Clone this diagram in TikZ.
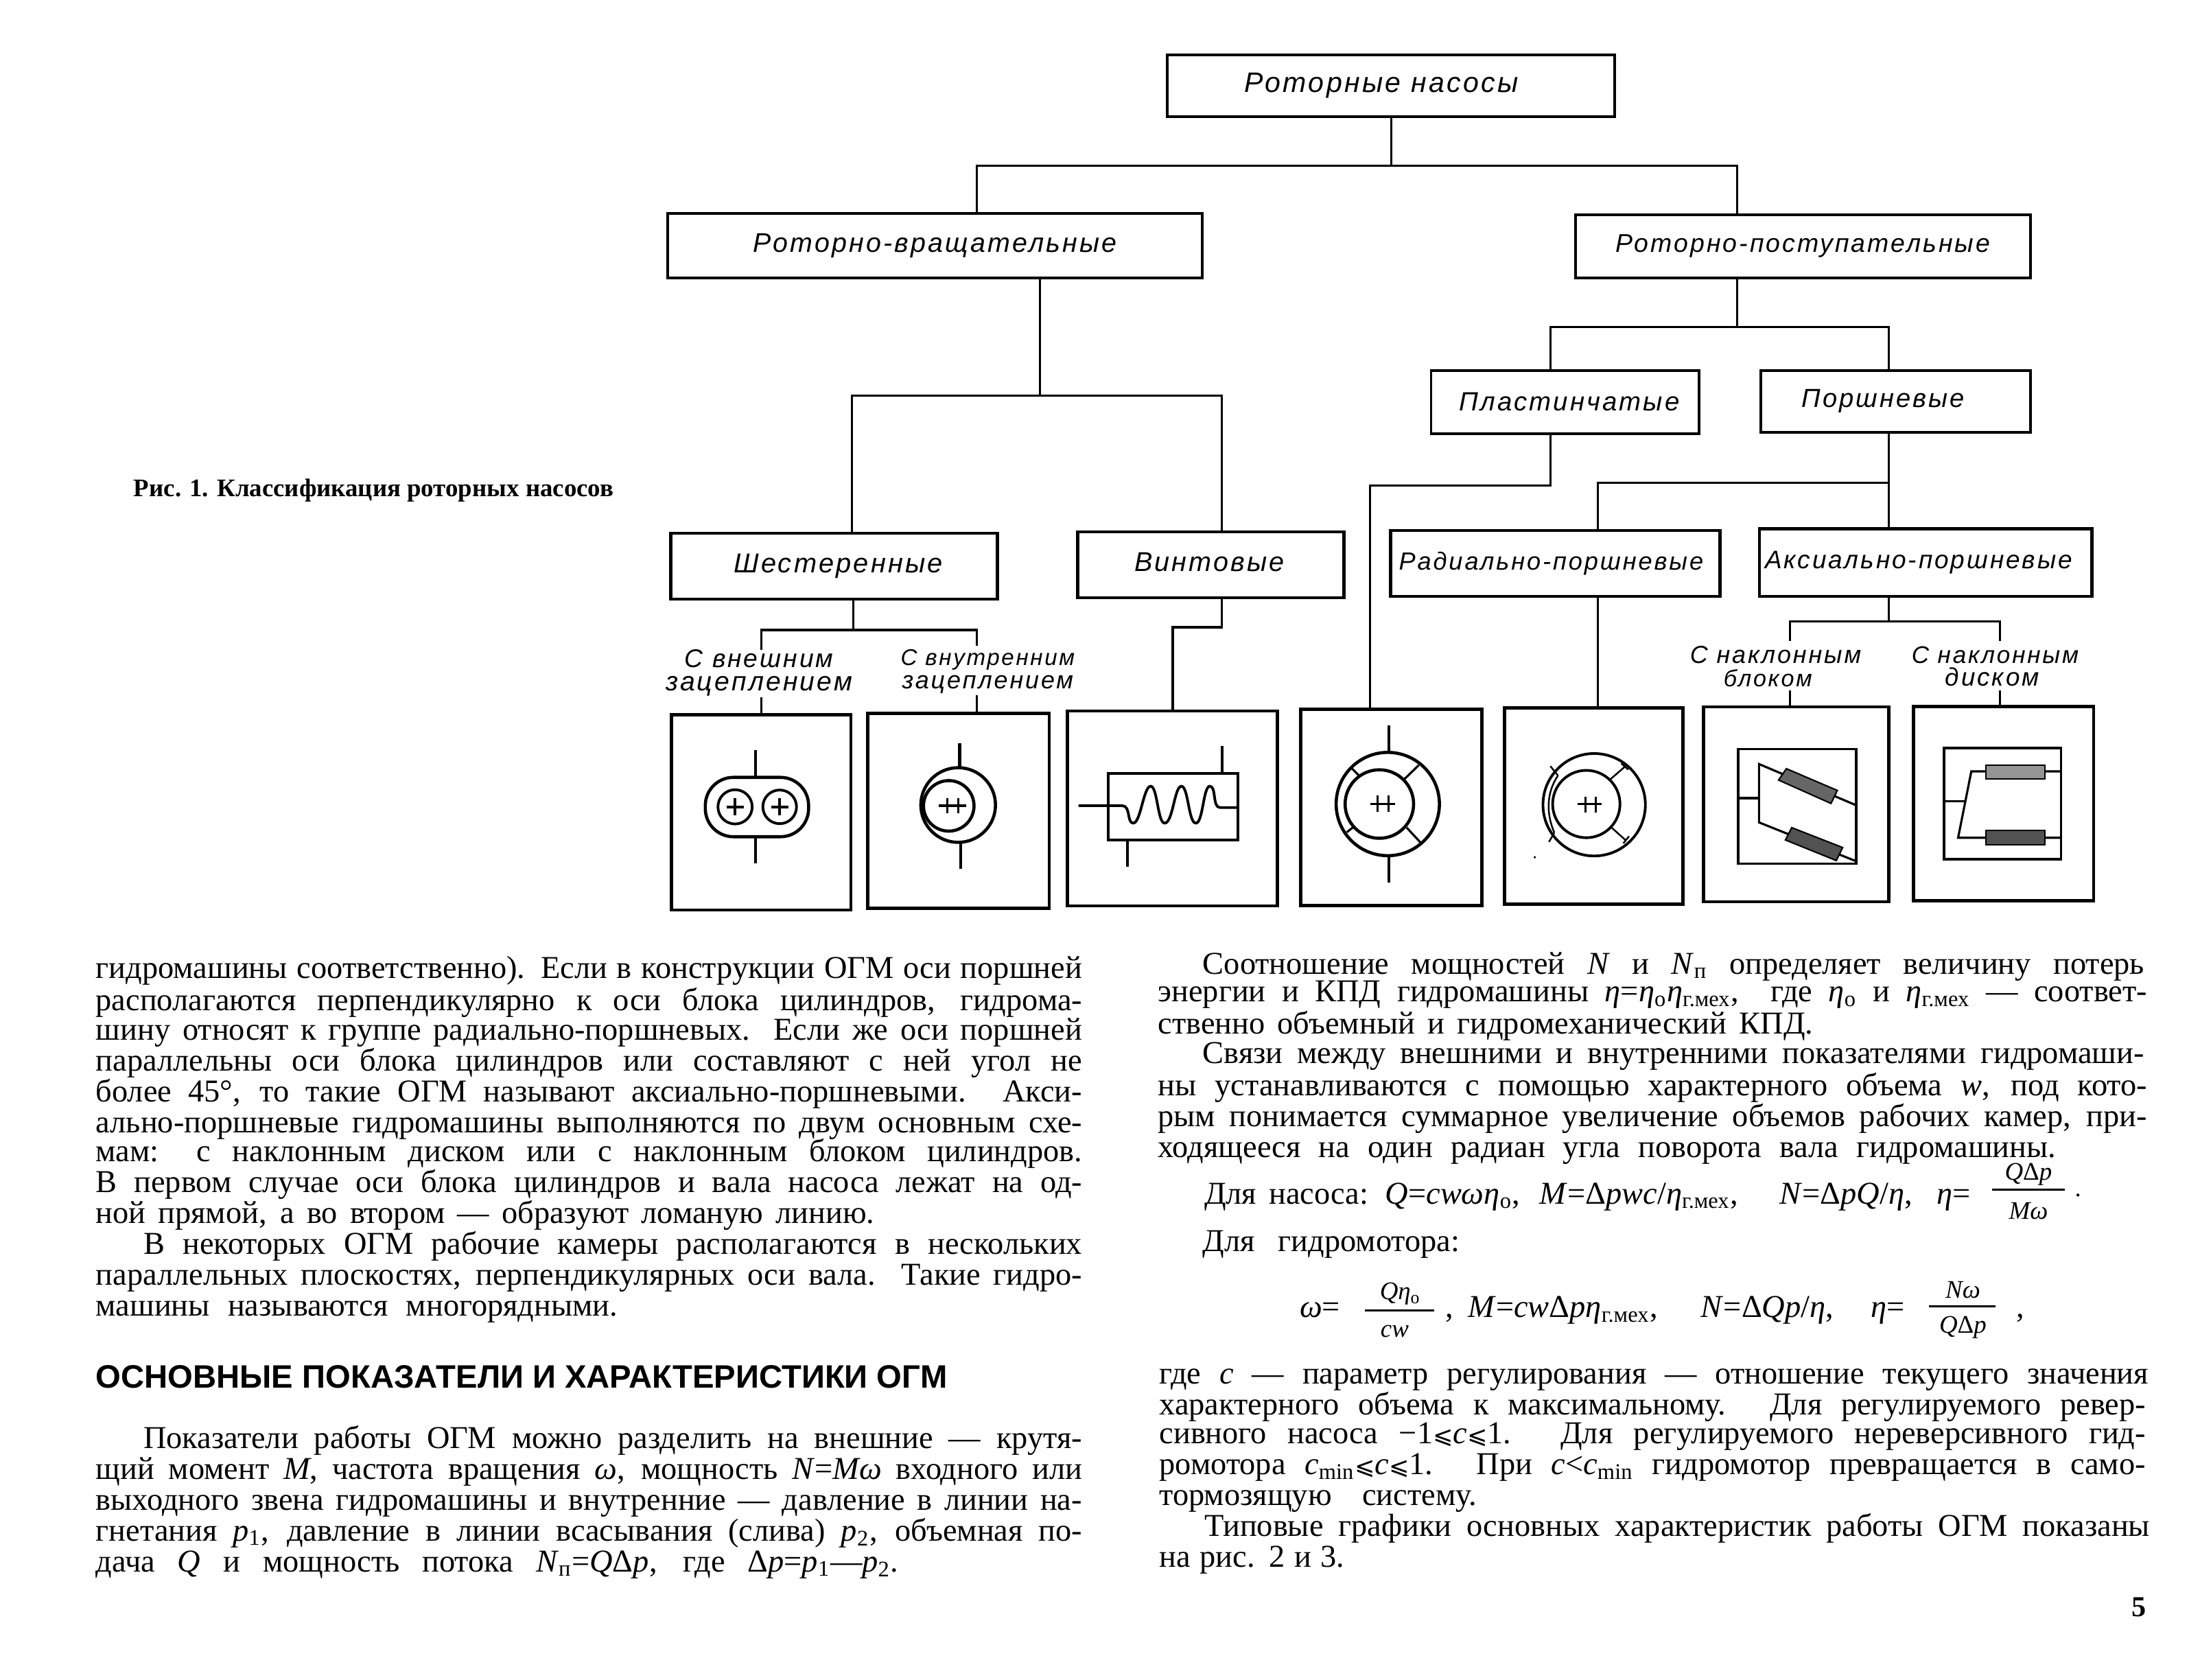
\documentclass[tikz,border=0pt]{standalone}
\usepackage{fontspec}
\usepackage{graphicx}
\setmainfont{Liberation Serif}
\newfontfamily\labf[LetterSpace=8]{Liberation Sans}
\newfontfamily\headf{Liberation Sans}
\newfontfamily\djv{DejaVu Sans}
\newlength\ux \setlength\ux{0.020446cm}
\newsavebox\tlb
\newcounter{tlc}
\newcommand\fitline[2]{\sbox\tlb{#2}\ifdim\wd\tlb>#1\relax\resizebox{#1}{!}{\usebox\tlb}\else\makebox[#1][s]{#2}\fi}
% label text fitted to a width given in picture units
\newcommand\lbl[2]{\resizebox{#1\ux}{!}{\labf\itshape #2}}
\newcommand\mybox[8]{\node[#2,minimum width={(#5-#3)*\ux},minimum height={(#6-#4)*\ux}] (#1) at ({(#5+#3)/2},{(#6+#4)/2}) {\kern#7\ux #8};}
\newcommand\tline[4]{\stepcounter{tlc}\node[txt] (t\arabic{tlc}) at (#1,#2+6) {\fitline{#3\ux}{#4}};}
\newcommand\I[1]{\textit{#1}}
\newcommand\sbs[1]{\textsubscript{#1}}
\newcommand\lle{{\djv\fontsize{10}{12}\selectfont ⩽}}
\tikzset{
  x=0.020446cm,y=-0.020446cm,
  txt/.style={anchor=base west,inner sep=0pt,font=\fontsize{13.2}{14}\selectfont},
  fml/.style={inner sep=0pt,font=\fontsize{10.5}{12}\selectfont},
  cbox/.style={draw=black,line width=1.1pt,inner sep=0pt,outer sep=0pt},
  cboxb/.style={draw=black,line width=1.35pt,inner sep=0pt,outer sep=0pt},
  sbox/.style={draw=black,line width=1.35pt,inner sep=0pt,outer sep=0pt},
  conn/.style={draw=black,line width=0.9pt},
  sym/.style={draw=black,line width=1.3pt},
  symt/.style={draw=black,line width=0.9pt},
  tag/.style={inner sep=0pt,align=center,font={\fontsize{10}{9.5}\selectfont\lineskiplimit=-20pt}},
}
\begin{document}
\begin{tikzpicture}
\useasboundingbox (0,0) rectangle (1568,1197.27);
% ---------- classification boxes
\mybox{root}{cbox}{832}{39}{1151}{83}{-14}{\raisebox{-3\ux}{\lbl{195}{Роторные насосы}}}
\mybox{vr}{cbox}{476}{152}{857}{198}{0}{\lbl{259}{Роторно-вращательные}}
\mybox{vp}{cbox}{1123}{153}{1447}{198}{0}{\lbl{267}{Роторно-поступательные}}
\mybox{plast}{cbox}{1020}{264}{1211}{309}{6}{\lbl{157}{Пластинчатые}}
\mybox{porsh}{cbox}{1255}{264}{1447}{308}{-18}{\lbl{116}{Поршневые}}
\mybox{gear}{cboxb}{478}{380}{711}{427}{6}{\lbl{149}{Шестеренные}}
\mybox{screw}{cboxb}{768}{379}{958}{426}{-2}{\raisebox{4\ux}{\lbl{107}{Винтовые}}}
\mybox{rad}{cboxb}{991}{378}{1226}{425}{-6}{\lbl{217}{Радиально-поршневые}}
\mybox{ax}{cboxb}{1254}{377}{1491}{425}{-10}{\raisebox{-2\ux}{\lbl{219}{Аксиально-поршневые}}}
% ---------- scheme boxes
\mybox{s1}{sbox}{478.6}{509.5}{606.5}{648.5}{0}{}
\mybox{s2}{sbox}{618.4}{508.3}{747.8}{647.2}{0}{}
\mybox{s3}{sbox}{760.9}{506.7}{910.6}{645.6}{0}{}
\mybox{s4}{sbox}{927}{505.4}{1056}{645.3}{0}{}
\mybox{s5}{sbox}{1072.2}{504.6}{1199.5}{644.3}{0}{}
\mybox{s6}{sbox}{1214}{503.8}{1346.2}{642.6}{0}{}
\mybox{s7}{sbox}{1363.8}{503.4}{1492.2}{642}{0}{}
% ---------- two-line tags
\node[tag] (t1tag) at (541,479.5) {\lbl{106}{С внешним}\\\lbl{133}{зацеплением}};
\node[tag] (t2tag) at (704,478.5) {\lbl{124}{С внутренним}\\\lbl{122}{зацеплением}};
\node[tag] (t3tag) at (1265.5,475) {\lbl{122}{С наклонным}\\\lbl{63}{блоком}\kern11\ux};
\node[tag] (t4tag) at (1422,475) {\lbl{119}{С наклонным}\\\lbl{67}{диском}\kern4\ux};
% ---------- connectors
\coordinate (a0) at (991.5,118); \coordinate (a1) at (696,118); \coordinate (a2) at (1238,118);
\draw[conn] (root.south) -- (a0);
\draw[conn] (vr.north -| a1) -- (a1) -- (a2) -- (vp.north -| a2);
\coordinate (b0) at (741,282); \coordinate (b1) at (607,282); \coordinate (b2) at (871,282);
\draw[conn] (vr.south -| b0) -- (b0);
\draw[conn] (gear.north -| b1) -- (b1) -- (b2) -- (screw.north -| b2);
\coordinate (c0) at (1238,233); \coordinate (c1) at (1105,233); \coordinate (c2) at (1346,233);
\draw[conn] (vp.south -| c0) -- (c0);
\draw[conn] (plast.north -| c1) -- (c1) -- (c2) -- (porsh.north -| c2);
\coordinate (d1) at (1105,346); \coordinate (d2) at (976.4,346);
\draw[conn] (plast.south -| d1) -- (d1) -- (d2) -- (s4.north -| d2);
\coordinate (e1) at (1346,344); \coordinate (e2) at (1139,344);
\draw[conn] (porsh.south -| e1) -- (ax.north -| e1);
\draw[conn] (e1) -- (e2) -- (rad.north -| e2);
\draw[conn] (rad.south -| e2) -- (s5.north -| e2);
\coordinate (f0) at (608,449); \coordinate (f1) at (542.8,449); \coordinate (f2) at (696.4,449);
\coordinate (f1e) at (542.8,463); \coordinate (f2e) at (696.4,460);
\coordinate (f1l) at (542.8,497); \coordinate (f2l) at (696.4,495.6);
\draw[conn] (gear.south -| f0) -- (f0);
\draw[conn] (f1e) -- (f1) -- (f2) -- (f2e);
\draw[conn] (s1.north -| f1) -- (f1l);
\draw[conn] (s2.north -| f2) -- (f2l);
\coordinate (g1) at (871,447); \coordinate (g2) at (835.8,447);
\draw[conn] (screw.south -| g1) -- (g1) -- (g2) -- (s3.north -| g2);
\coordinate (h0) at (1346,443); \coordinate (h1) at (1275.8,443); \coordinate (h2) at (1425.6,443);
\coordinate (h1e) at (1275.8,457); \coordinate (h2e) at (1425.6,457);
\coordinate (h1l) at (1275.8,492); \coordinate (h2l) at (1425.6,492);
\draw[conn] (ax.south -| h0) -- (h0);
\draw[conn] (h1e) -- (h1) -- (h2) -- (h2e);
\draw[conn] (s6.north -| h1) -- (h1l);
\draw[conn] (s7.north -| h2) -- (h2l);
% ---------- scheme 1: external gear
\draw[sym] (538.5,534.7) -- (538.5,554) (538.5,596.3) -- (538.5,615.4);
\draw[sym,rounded corners=20\ux] (502.7,554) rectangle (576.3,596.3);
\draw[symt,line width=1.1pt] (523.9,575) circle [radius=12.2] (555.7,575) circle [radius=12];
\draw[symt,line width=1.1pt] (517.7,575) -- (530.1,575) (523.9,569) -- (523.9,581) (549.5,575) -- (561.9,575) (555.7,569) -- (555.7,581);
% ---------- scheme 2: internal gear
\draw[sym] (683.9,529.9) -- (683.9,547) (684.8,600) -- (684.8,619);
\draw[sym] (682.9,573.7) circle [radius=26.6];
\draw[sym] (676.2,574.3) circle [radius=18];
\draw[symt] (668.9,574.2) -- (688.5,574.2) (675.1,569) -- (675.1,579.6) (682.9,569) -- (682.9,579.6);
% ---------- scheme 3: screw
\draw[symt,line width=1.1pt] (789.9,551) rectangle (882.5,598.6);
\draw[sym] (871,531.8) -- (871,551) (803.6,598.6) -- (803.6,617.9);
\draw[symt,line width=1.1pt] (768.7,574.2) -- (799.9,574.2) .. controls (806,574.2) and (803,586.6) .. (807.7,586.6) .. controls (813,586.6) and (815,560.3) .. (820.1,560.3) .. controls (825,560.3) and (825,586.6) .. (830.1,586.6) .. controls (836,586.6) and (837,560.3) .. (842,560.3) .. controls (847,560.3) and (847,586.6) .. (852.3,586.6) .. controls (857.5,586.6) and (857.5,560.3) .. (862.3,560.3) .. controls (867,560.3) and (864,575.5) .. (869.5,575.5) -- (882.5,575.5);
% ---------- scheme 4: radial
\draw[sym] (989.9,517.1) -- (989.9,536) (989.9,610) -- (989.9,628.8);
\draw[sym] (989.1,573) circle [radius=36.8];
\draw[sym] (983.1,573) circle [radius=24.4];
\draw[symt] (976.8,572.9) -- (994.4,572.9) (982,567) -- (982,578.4) (989.5,567) -- (989.5,578.4);
\draw[symt] (1001.1,555.1) -- (1011.2,545.3) (968.9,553) -- (963.7,547.8) (965.2,588.9) -- (959.9,593.1) (1002.6,589.8) -- (1012.3,600.3);
% ---------- scheme 5: radial
\draw[sym,line width=1.1pt] (1136.2,573.5) circle [radius=36.5];
\draw[sym,line width=1.1pt] (1130.6,573) circle [radius=24];
\draw[symt] (1124.6,573) -- (1141.5,573) (1129.9,567.7) -- (1129.9,579) (1137.3,567.7) -- (1137.3,579);
\draw[symt,line width=0.7pt] (1147.1,555.9) -- (1158.3,546.2) (1155.5,544) -- (1160.5,548.5) (1148.6,589.8) -- (1159,599.1) (1157,601) -- (1161,596);
\draw[symt,line width=0.7pt] (1110.4,552.7) .. controls (1102,565) and (1102,580) .. (1107.8,593.4);
\draw[symt,line width=0.7pt] (1110.4,552.7) -- (1105,546) (1107.8,593.4) -- (1104,600);
\fill (1093.9,610.9) circle [radius=0.9];
% ---------- scheme 6: inclined block
\draw[symt,line width=1pt] (1238.8,533.9) rectangle (1323,615.4);
\draw[symt,line width=1.1pt] (1238.8,568.6) -- (1253.7,568.6);
\draw[symt] (1323,573.9) -- (1253.7,544.5) -- (1253.7,586.1) -- (1323,613.8);
\draw[draw=black,fill=black!60,line width=0.6pt] (1273.2,547.8) -- (1309.5,563.3) -- (1305,572.6) -- (1267.6,555.9) -- cycle;
\draw[draw=black,fill=black!68,line width=0.6pt] (1277,589.8) -- (1313.3,604) -- (1308.8,613.3) -- (1272.5,598.6) -- cycle;
% ---------- scheme 7: inclined disc
\draw[symt,line width=1pt] (1385.5,533) rectangle (1469,612.2);
\draw[symt,line width=1.1pt] (1386.6,571) -- (1400.5,571);
\draw[symt] (1469,549.7) -- (1405,549.7) -- (1395.6,597) -- (1469,597);
\draw[draw=black,fill=black!42,line width=0.6pt] (1415.5,545.3) rectangle (1457.4,555.1);
\draw[draw=black,fill=black!68,line width=0.6pt] (1415.5,591.8) rectangle (1457.4,601.9);
% ---------- caption
\node[anchor=base west,inner sep=0pt] (cap) at (95,354) {\resizebox{342\ux}{!}{\bfseries Рис. 1. Классификация роторных насосов}};
% ---------- left column
\tline{68}{691}{703}{гидромашины соответственно). Если в конструкции ОГМ оси поршней}
\tline{68}{714}{703}{располагаются перпендикулярно к оси блока цилиндров, гидрома-}
\tline{68}{735}{703}{шину относят к группе радиально-поршневых. Если же оси поршней}
\tline{68}{757}{703}{параллельны оси блока цилиндров или составляют с ней угол не}
\tline{68}{779}{703}{более 45°, то такие ОГМ называют аксиально-поршневыми. Акси-}
\tline{68}{801}{703}{ально-поршневые гидромашины выполняются по двум основным схе-}
\tline{68}{822}{703}{мам: с наклонным диском или с наклонным блоком цилиндров.}
\tline{68}{844}{703}{В первом случае оси блока цилиндров и вала насоса лежат на од-}
\tline{68}{866}{555}{ной прямой, а во втором — образуют ломаную линию.}
\tline{102}{888}{669}{В некоторых ОГМ рабочие камеры располагаются в нескольких}
\tline{68}{910}{703}{параллельных плоскостях, перпендикулярных оси вала. Такие гидро-}
\tline{68}{932}{372}{машины называются многорядными.}
\node[anchor=base west,inner sep=0pt] (head) at (68,989) {\resizebox{607\ux}{!}{\headf\bfseries ОСНОВНЫЕ ПОКАЗАТЕЛИ И ХАРАКТЕРИСТИКИ ОГМ}};
\tline{102}{1026}{669}{Показатели работы ОГМ можно разделить на внешние — крутя-}
\tline{68}{1048}{703}{щий момент \I{M}, частота вращения \I{ω}, мощность \I{N}=\I{Mω} входного или}
\tline{68}{1070}{703}{выходного звена гидромашины и внутренние — давление в линии на-}
\tline{68}{1092}{703}{гнетания \I{p}\sbs{1}, давление в линии всасывания (слива) \I{p}\sbs{2}, объемная по-}
\tline{68}{1114}{572}{дача \I{Q} и мощность потока \I{N}\sbs{п}=\I{Q}Δ\I{p}, где Δ\I{p}=\I{p}\sbs{1}—\I{p}\sbs{2}.}
% ---------- right column
\tline{857}{688}{671}{Соотношение мощностей \I{N} и \I{N}\sbs{п} определяет величину потерь}
\tline{825}{708}{705}{энергии и КПД гидромашины \I{η}=\I{η}\sbs{о}\I{η}\sbs{г.мех},\quad где \I{η}\sbs{о} и \I{η}\sbs{г.мех} — соответ-}
\tline{825}{731}{467}{ственно объемный и гидромеханический КПД.}
\tline{857}{752}{671}{Связи между внешними и внутренними показателями гидромаши-}
\tline{825}{775}{705}{ны устанавливаются с помощью характерного объема \I{w}, под кото-}
\tline{825}{797}{705}{рым понимается суммарное увеличение объемов рабочих камер, при-}
\tline{825}{819}{640}{ходящееся на один радиан угла поворота вала гидромашины.}
\tline{858}{852}{117}{Для насоса:}
\tline{987}{852}{101}{\I{Q}=\I{cwωη}\sbs{о},}
\tline{1097}{852}{155}{\I{M}=Δ\I{pwc}/\I{η}\sbs{г.мех},}
\tline{1268}{852}{103}{\I{N}=Δ\I{pQ}/\I{η},}
\tline{1380}{852}{31}{\I{η}=}
\node[fml] (f1n) at (1445.7,837) {\I{Q}Δ\I{p}};
\node[fml] (f1d) at (1445.7,863) {\I{Mω}};
\draw[symt] (1420,848) -- (1471.4,848);
\node[fml] (f1p) at (1481,852) {.};
\tline{857}{886}{183}{Для гидромотора:}
\tline{926}{933}{33}{\I{ω}=}
\node[fml] (f2n) at (998,922) {\I{Qη}\sbs{о}};
\node[fml] (f2d) at (994,949) {\I{cw}};
\draw[symt] (973,934) -- (1022,934);
\tline{1030}{933}{6}{,}
\tline{1046}{933}{149}{\I{M}=\I{cw}Δ\I{pη}\sbs{г.мех},}
\tline{1212}{933}{110}{\I{N}=Δ\I{Qp}/\I{η},}
\tline{1333}{933}{31}{\I{η}=}
\node[fml] (f3n) at (1399,919.5) {\I{Nω}};
\node[fml] (f3d) at (1399,946) {\I{Q}Δ\I{p}};
\draw[symt] (1375,931) -- (1422,931);
\tline{1437}{933}{6}{,}
\tline{826}{980}{705}{где \I{c} — параметр регулирования — отношение текущего значения}
\tline{826}{1002}{703}{характерного объема к максимальному. Для регулируемого ревер-}
\tline{826}{1023}{703}{сивного насоса −1\lle\I{c}\lle1. Для регулируемого нереверсивного гид-}
\tline{826}{1045}{703}{ромотора \I{c}\sbs{min}\lle\I{c}\lle1. При \I{c}<\I{c}\sbs{min} гидромотор превращается в само-}
\tline{826}{1067}{226}{тормозящую систему.}
\tline{858}{1089}{674}{Типовые графики основных характеристик работы ОГМ показаны}
\tline{826}{1111}{132}{на рис. 2 и 3.}
\node[anchor=base west,inner sep=0pt,font=\fontsize{12}{13}\selectfont\bfseries] (pg) at (1519,1152) {5};
\end{tikzpicture}
\end{document}
